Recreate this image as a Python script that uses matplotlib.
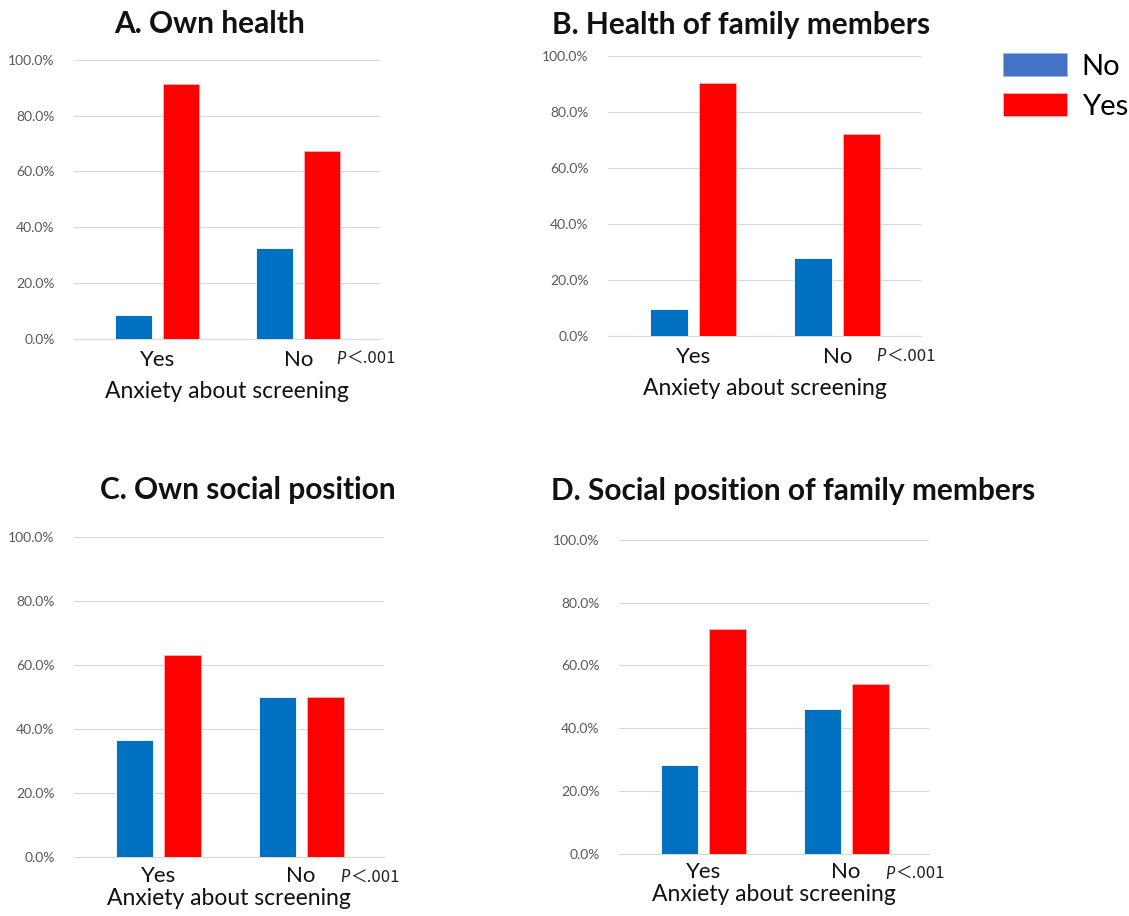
import matplotlib
matplotlib.use("Agg")
import matplotlib.pyplot as plt
from matplotlib.patches import Patch
from matplotlib.transforms import blended_transform_factory

plt.rcParams['font.family'] = ['Lato', 'DejaVu Sans']

W, H = 1129, 916

categories = ["Yes", "No"]
titles = ["A. Own health", "B. Health of family members",
          "C. Own social position", "D. Social position of family members"]
no_values = [[8.5, 32.7], [9.6, 28.0], [36.8, 50.0], [28.3, 46.0]]
yes_values = [[91.5, 67.3], [90.4, 72.0], [63.2, 50.0], [71.7, 54.0]]
series_names = ["No", "Yes"]
y_ticks = [0, 20, 40, 60, 80, 100]
x_label = "Anxiety about screening"
p_label = ("P", "＜.001")

BLUE = "#0070C0"
RED = "#FF0000"
LEGEND_BLUE = "#4472C4"
GRID = "#D9D9D9"
TICK = "#595959"

# axes boxes in pixels: (x0, x1, ytop, ybottom)
boxes = [(74, 380, 60, 338.7),
         (608, 921, 56, 336),
         (74, 384, 537.3, 857.3),
         (619, 929, 540, 853.7)]
title_pos = [(210, 24), (741, 25), (248, 490), (793, 491)]
xlabel_pads = [8, 8, 1.5, 1.5]
tick_pads = [8, 8, 6, 6]

fig = plt.figure(figsize=(W / 100, H / 100), dpi=100)

bw = 0.26
off = 0.168
for i in range(4):
    x0, x1, yt, yb = boxes[i]
    ax = fig.add_axes([x0 / W, 1 - yb / H, (x1 - x0) / W, (yb - yt) / H])
    xs = list(range(len(categories)))
    ax.bar([x - off for x in xs], no_values[i], width=bw, color=BLUE,
           edgecolor="white", linewidth=0.6, zorder=3)
    ax.bar([x + off for x in xs], yes_values[i], width=bw, color=RED,
           edgecolor="#FFB0B0", linewidth=0.6, zorder=3)
    ax.set_xlim(-0.59, 1.58)
    ax.set_ylim(0, 100)
    ax.set_yticks(y_ticks)
    ax.set_yticklabels([f"{v:.1f}%" for v in y_ticks], color=TICK, fontsize=10)
    ax.set_xticks(xs)
    ax.set_xticklabels(categories, fontsize=16, color="#111111")
    ax.tick_params(axis='y', length=0, pad=14)
    ax.tick_params(axis='x', length=0, pad=tick_pads[i])
    ax.grid(axis='y', color=GRID, linewidth=0.8, zorder=0)
    for s in ["top", "right", "left"]:
        ax.spines[s].set_visible(False)
    ax.spines["bottom"].set_color(GRID)
    ax.spines["bottom"].set_linewidth(0.8)
    ax.set_xlabel(x_label, fontsize=16.5, color="#111111", labelpad=xlabel_pads[i])
    # p-value
    tr = blended_transform_factory(ax.transData, ax.transAxes)
    pt = ax.annotate(p_label[0], xy=(1.27, 0), xycoords=tr,
                     xytext=(0, -20), textcoords='offset pixels',
                     fontsize=12, style='italic', ha='left', va='center',
                     color="#222222")
    ax.annotate(p_label[1], xy=(1, 0.5), xycoords=pt,
                xytext=(1, 0), textcoords='offset pixels',
                fontsize=12, ha='left', va='center', color="#222222",
                family=['Noto Sans CJK JP', 'DejaVu Sans'])
    tx, ty = title_pos[i]
    fig.text(tx / W, 1 - ty / H, titles[i], fontsize=21.5, fontweight='bold',
             ha='center', va='center', color="#111111")

handles = [Patch(facecolor=LEGEND_BLUE, edgecolor="#9DB4E0", linewidth=0.6),
           Patch(facecolor=RED, edgecolor="#FFB0B0", linewidth=0.6)]
fig.legend(handles, series_names, loc='upper left',
           bbox_to_anchor=(1003 / W, 1 - 53 / H), frameon=False,
           fontsize=21, handlelength=2.2, handleheight=0.85,
           labelspacing=0.45, handletextpad=0.5, borderpad=0,
           borderaxespad=0)

fig.savefig("out.png", dpi=100)
